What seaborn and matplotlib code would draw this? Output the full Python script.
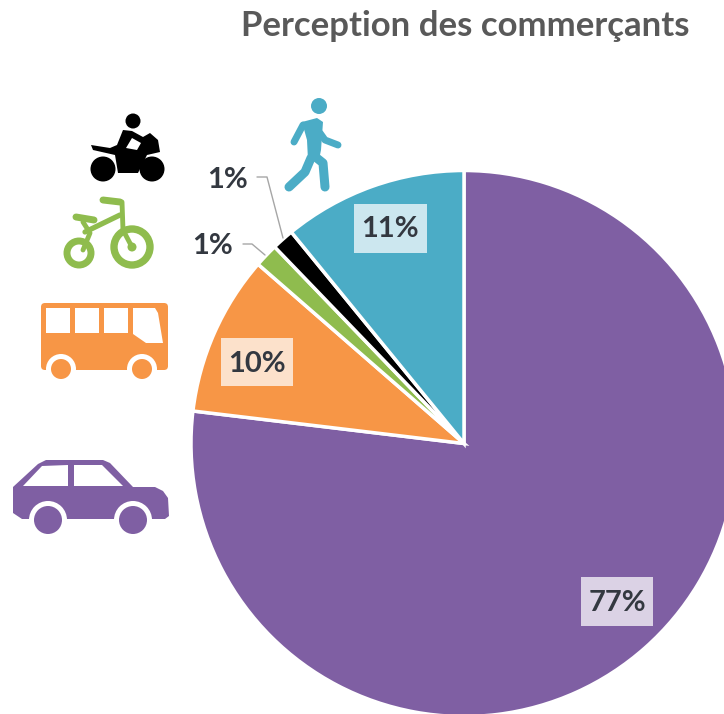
import matplotlib
matplotlib.use('Agg')
import matplotlib.pyplot as plt
from matplotlib.patches import Circle, Polygon, FancyBboxPatch, Rectangle
import seaborn as sns

# Shares, starting at 12 o'clock, clockwise
modes = ['Voiture', 'Bus', 'Vélo', 'Moto', 'Marche']
shares = [76.9, 9.5, 1.4, 1.3, 10.9]
labels = ['77%', '10%', '1%', '1%', '11%']
colors = ['#7f5fa3', '#f79646', '#8fbc4e', '#000000', '#4bacc6']

PURPLE, ORANGE, GREEN, BLACK, BLUE = colors
TEXT = '#333840'

sns.set_theme(style='white')
plt.rcParams['font.family'] = ['Lato', 'DejaVu Sans']


def circle(ax, x, y, r, color, **kw):
    ax.add_patch(Circle((x, y), r, facecolor=color, edgecolor='none', **kw))


def ring(ax, x, y, r, color, lw):
    ax.add_patch(Circle((x, y), r, facecolor='none', edgecolor=color, linewidth=lw))


def poly(ax, pts, color):
    ax.add_patch(Polygon(pts, closed=True, facecolor=color, edgecolor='none'))


def stroke(ax, xs, ys, color, lw):
    ax.plot(xs, ys, color=color, lw=lw, solid_capstyle='round', solid_joinstyle='round')


def boxed_label(ax, text, x, y, x0, x1, y0, y1):
    ax.add_patch(Rectangle((x0, y0), x1 - x0, y1 - y0, facecolor='white', edgecolor='none', alpha=0.72))
    ax.text(x, y, text, ha='center', va='center', fontsize=21, fontweight='bold', color=TEXT)


def draw_walker(ax):
    circle(ax, 319, 106, 8, BLUE)
    poly(ax, [(302, 122), (317, 118), (323, 122), (321, 150), (319, 160), (308, 160), (307, 140)], BLUE)
    stroke(ax, [303, 294], [125, 142], BLUE, 5)
    stroke(ax, [320, 325, 338], [133, 140, 145], BLUE, 5)
    stroke(ax, [311, 305, 289], [158, 172, 187], BLUE, 6.5)
    stroke(ax, [313, 323, 325], [155, 163, 187], BLUE, 6.5)


def draw_moto(ax):
    circle(ax, 133, 121, 7.5, BLACK)
    circle(ax, 103, 169, 12.5, BLACK)
    circle(ax, 152, 169, 12.5, BLACK)
    poly(ax, [(91, 145), (110, 148), (117, 145), (123, 130), (132, 131), (143, 137), (150, 133),
              (158, 140), (160, 152), (147, 155), (138, 173), (118, 173), (115, 155), (93, 150)], BLACK)
    poly(ax, [(132, 138), (141, 143), (137, 150), (126, 148)], 'white')


def draw_bike(ax):
    ring(ax, 79, 253, 12, GREEN, 5)
    ring(ax, 132, 247, 18, GREEN, 5.3)
    stroke(ax, [122, 123, 132], [202, 230, 247], GREEN, 3.5)
    circle(ax, 132, 247, 4.5, GREEN)
    stroke(ax, [85, 120], [232, 215], GREEN, 3.8)
    stroke(ax, [83, 90, 83], [222, 233, 250], GREEN, 3.5)
    stroke(ax, [103, 120], [200, 202], GREEN, 5)
    stroke(ax, [76, 94], [217, 220], GREEN, 5)


def draw_bus(ax):
    ax.add_patch(FancyBboxPatch((44, 306), 121, 61, boxstyle='round,pad=3,rounding_size=4',
                                facecolor=ORANGE, edgecolor='none'))
    for x0, x1 in [(46, 70), (75, 99), (104, 128)]:
        poly(ax, [(x0, 308), (x1, 308), (x1, 333), (x0, 333)], 'white')
    poly(ax, [(133, 308), (155, 308), (158, 313), (163, 343), (146, 343), (133, 334)], 'white')
    for x in [61, 142]:
        circle(ax, x, 369, 15, 'white')
        circle(ax, x, 369, 10, ORANGE)


def draw_car(ax):
    poly(ax, [(13, 487), (38, 464), (46, 460), (103, 460), (110, 463), (133, 487), (155, 487),
              (163, 491), (168, 498), (169, 516), (165, 519), (22, 519), (13, 513)], PURPLE)
    poly(ax, [(23, 486), (42, 466), (68, 465), (68, 486)], 'white')
    poly(ax, [(74, 465), (102, 465), (123, 486), (74, 486)], 'white')
    for x in [48, 133]:
        circle(ax, x, 520, 19, 'white')
        circle(ax, x, 520, 14, PURPLE)


fig = plt.figure(figsize=(7.24, 7.14), dpi=100)

pie_ax = fig.add_axes([0, 0, 1, 1])
pie_ax.pie(shares, colors=colors, startangle=90, counterclock=False, center=(464, 270.5), radius=273,
           wedgeprops={'edgecolor': 'white', 'linewidth': 2.5}, frame=True)
pie_ax.set_xlim(0, 724)
pie_ax.set_ylim(0, 714)
pie_ax.axis('off')

# second layer in picture pixels, y going down
ax = fig.add_axes([0, 0, 1, 1])
ax.set_xlim(0, 724)
ax.set_ylim(714, 0)
ax.axis('off')
ax.patch.set_alpha(0)

ax.text(465, 26, 'Perception des commerçants', ha='center', va='center',
        fontsize=25, fontweight='bold', color='#595959')

boxed_label(ax, labels[0], 617, 603, 581, 653, 577, 626)
boxed_label(ax, labels[1], 257, 364, 221, 293, 338, 386)
boxed_label(ax, labels[4], 390, 229, 354, 427, 204, 253)
ax.text(213, 246, labels[2], ha='center', va='center', fontsize=21, fontweight='bold', color=TEXT)
ax.text(228, 180, labels[3], ha='center', va='center', fontsize=21, fontweight='bold', color=TEXT)

ax.plot([243, 252, 265], [244, 244, 255], color='#a6a6a6', lw=1)
ax.plot([257, 267, 283], [177, 177, 238], color='#a6a6a6', lw=1)

draw_walker(ax)
draw_moto(ax)
draw_bike(ax)
draw_bus(ax)
draw_car(ax)

ax.set_xlim(0, 724)
ax.set_ylim(714, 0)
fig.savefig('out.png', dpi=100)
